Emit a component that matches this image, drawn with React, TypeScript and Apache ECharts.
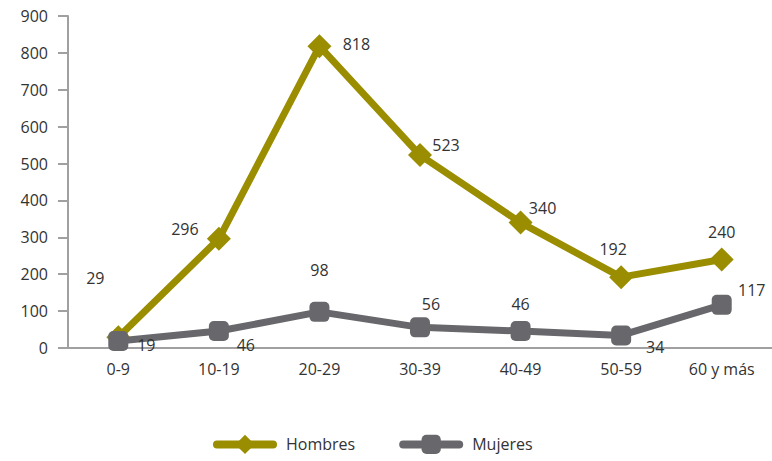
import React, { useEffect, useRef } from "react";
import * as echarts from "echarts";

const categories = ["0-9", "10-19", "20-29", "30-39", "40-49", "50-59", "60 y más"];
const hombres = [29, 296, 818, 523, 340, 192, 240];
const mujeres = [19, 46, 98, 56, 46, 34, 117];
const yTicks = { min: 0, max: 900, interval: 100 };

// label offsets (style only)
const hombresLabelOffsets = [[-23, -59], [-34, -10], [37, -2], [26, -10], [22, -15], [-8, -28], [0, -27]];
const mujeresLabelOffsets = [[28, 4], [27, 14], [0, -42], [11, -23], [0, -27], [34, 12], [30, -15]];

const FONT = "'Open Sans', sans-serif";

export default function App() {
  const ref = useRef<HTMLDivElement>(null);
  useEffect(() => {
    const chart = echarts.init(ref.current!, null, { renderer: "svg" });
    const mk = (vals: number[], offs: number[][]) =>
      vals.map((v, i) => ({
        value: v,
        label: { offset: offs[i] },
      }));
    chart.setOption({
      animation: false,
      textStyle: { fontFamily: FONT },
      grid: { left: 68, top: 16, width: 710, bottom: 113, containLabel: false },
      legend: {
        bottom: 2,
        left: 208,
        itemWidth: 56,
        itemHeight: 24,
        itemGap: 44,
        lineStyle: { width: 8, cap: "round" },
        textStyle: { fontFamily: FONT, fontSize: 16, color: "#333", padding: [0, 0, 0, 8] },
        data: ["Hombres", "Mujeres"],
      },
      xAxis: {
        type: "category",
        data: categories,
        boundaryGap: true,
        axisLine: { lineStyle: { color: "#a0a0a0", width: 2 } },
        axisTick: { show: false },
        axisLabel: { color: "#333", fontSize: 16, margin: 13, fontFamily: FONT },
      },
      yAxis: {
        type: "value",
        min: yTicks.min,
        max: yTicks.max,
        interval: yTicks.interval,
        splitLine: { show: false },
        axisLine: { show: true, lineStyle: { color: "#a0a0a0", width: 2 } },
        axisTick: { show: true, length: 10, lineStyle: { color: "#a0a0a0", width: 2 } },
        axisLabel: { color: "#333", fontSize: 16, margin: 20, fontFamily: FONT },
      },
      series: [
        {
          name: "Hombres",
          type: "line",
          data: mk(hombres, hombresLabelOffsets),
          symbol: "diamond",
          symbolSize: 24,
          lineStyle: { color: "#9a8d00", width: 7 },
          itemStyle: { color: "#9a8d00" },
          label: { show: true, position: "inside", color: "#333", fontSize: 16, fontFamily: FONT },
          z: 2,
        },
        {
          name: "Mujeres",
          type: "line",
          data: mk(mujeres, mujeresLabelOffsets),
          symbol: "roundRect",
          symbolSize: 20,
          lineStyle: { color: "#68686c", width: 7 },
          itemStyle: { color: "#68686c" },
          label: { show: true, position: "inside", color: "#333", fontSize: 16, fontFamily: FONT },
          z: 3,
        },
      ],
    });
    return () => chart.dispose();
  }, []);
  return <div ref={ref} style={{ position: "absolute", left: 0, top: 0, width: 772, height: 461 }} />;
}
